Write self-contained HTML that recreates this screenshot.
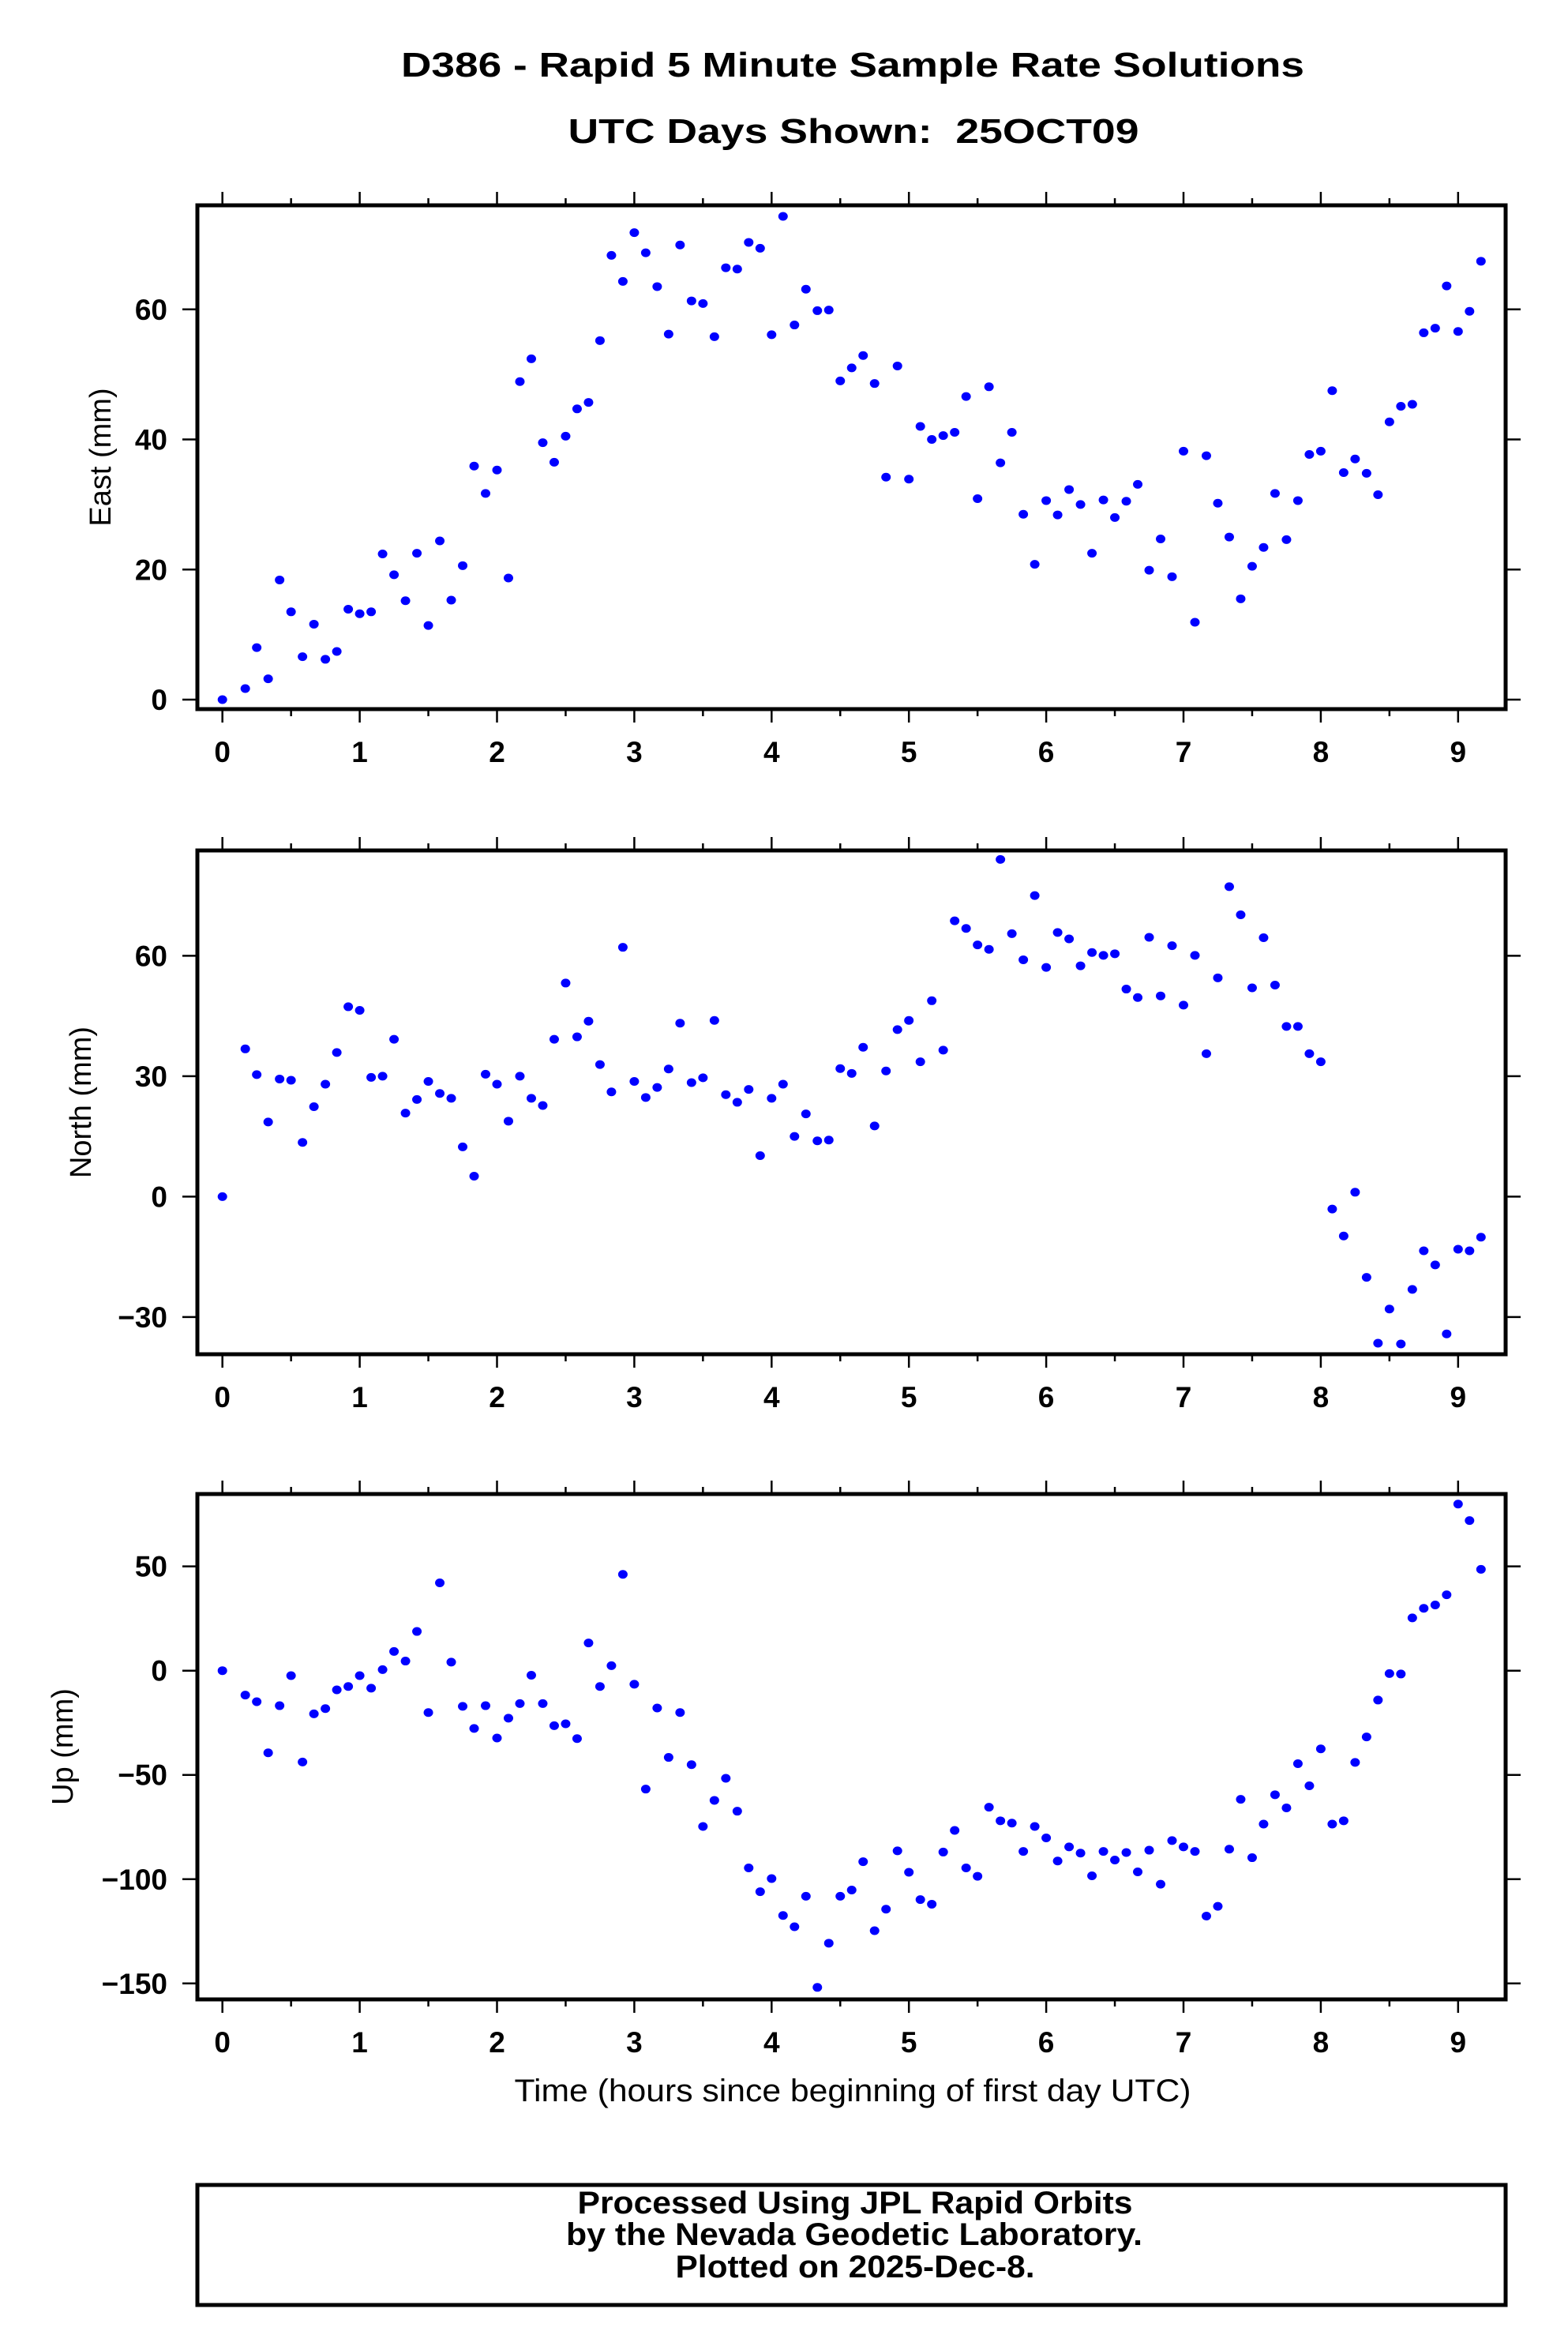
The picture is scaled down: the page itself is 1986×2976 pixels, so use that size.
<!DOCTYPE html>
<html><head><meta charset="utf-8"><style>
html,body{margin:0;padding:0;background:#fff;}
svg{display:block;font-family:"Liberation Sans",Arial,sans-serif;}
</style></head><body>
<svg id="chart" width="1986" height="2976" viewBox="0 0 1986 2976" xmlns="http://www.w3.org/2000/svg">
<rect x="0" y="0" width="1986" height="2976" fill="#fff"/>
<text x="1080" y="97" text-anchor="middle" font-size="44" font-weight="bold" textLength="1144" lengthAdjust="spacingAndGlyphs">D386 - Rapid 5 Minute Sample Rate Solutions</text>
<text x="1081" y="181" text-anchor="middle" font-size="44" font-weight="bold" textLength="723" lengthAdjust="spacingAndGlyphs" xml:space="preserve">UTC Days Shown:  25OCT09</text>
<text x="1080" y="2661" text-anchor="middle" font-size="40" textLength="857" lengthAdjust="spacingAndGlyphs">Time (hours since beginning of first day UTC)</text>
<rect x="250" y="2767" width="1657" height="152" fill="none" stroke="#000" stroke-width="5"/>
<text x="1083" y="2803" text-anchor="middle" font-size="40" font-weight="bold" textLength="703" lengthAdjust="spacingAndGlyphs">Processed Using JPL Rapid Orbits</text>
<text x="1082" y="2843" text-anchor="middle" font-size="40" font-weight="bold" textLength="730" lengthAdjust="spacingAndGlyphs">by the Nevada Geodetic Laboratory.</text>
<text x="1083" y="2884" text-anchor="middle" font-size="40" font-weight="bold" textLength="455" lengthAdjust="spacingAndGlyphs">Plotted on 2025-Dec-8.</text>
<g id="panels"></g>
</svg>
<script>
const sampleIndex = [0,2,3,4,5,6,7,8,9,10,11,12,13,14,15,16,17,18,19,20,21,22,23,24,25,26,27,28,29,30,31,32,33,34,35,36,37,38,39,40,41,42,43,44,45,46,47,48,49,50,51,52,53,54,55,56,57,58,59,60,61,62,63,64,65,66,67,68,69,70,71,72,73,74,75,76,77,78,79,80,81,82,83,84,85,86,87,88,89,90,91,92,93,94,95,96,97,98,99,100,101,102,103,104,105,106,107,108,109,110];
const eastValues = [0,1.7,8.0,3.2,18.4,13.5,6.6,11.6,6.2,7.4,13.9,13.2,13.5,22.4,19.2,15.2,22.5,11.4,24.4,15.3,20.6,35.9,31.7,35.3,18.7,48.9,52.4,39.5,36.5,40.5,44.7,45.7,55.2,68.3,64.3,71.8,68.7,63.5,56.2,69.9,61.3,60.9,55.8,66.4,66.2,70.3,69.4,56.1,74.3,57.6,63.1,59.8,59.9,49.0,51.0,52.9,48.6,34.2,51.3,33.9,42.0,40.0,40.6,41.1,46.6,30.9,48.1,36.4,41.1,28.5,20.8,30.6,28.4,32.3,30.0,22.5,30.7,28.0,30.5,33.1,19.9,24.7,18.9,38.2,11.9,37.5,30.2,25.0,15.5,20.5,23.4,31.7,24.6,30.6,37.7,38.2,47.5,34.9,37.0,34.8,31.5,42.7,45.1,45.4,56.4,57.1,63.6,56.6,59.7,67.4];
const northValues = [0,36.8,30.4,18.6,29.3,29.0,13.5,22.4,28.0,35.9,47.3,46.4,29.7,30.0,39.2,20.8,24.2,28.7,25.7,24.5,12.4,5.1,30.5,28.0,18.8,30.0,24.5,22.7,39.2,53.2,39.8,43.7,32.9,26.1,62.1,28.7,24.7,27.2,31.8,43.2,28.4,29.6,43.9,25.4,23.5,26.7,10.2,24.5,28.0,15.0,20.6,13.9,14.1,31.9,30.7,37.2,17.6,31.3,41.6,43.9,33.6,48.8,36.5,68.7,66.8,62.7,61.6,84.0,65.5,59.0,75.0,57.1,65.8,64.2,57.5,60.8,60.1,60.5,51.7,49.6,64.6,50.0,62.5,47.7,60.1,35.6,54.5,77.2,70.2,52.0,64.5,52.7,42.4,42.4,35.6,33.6,-3.1,-9.8,1.1,-20.1,-36.5,-28.0,-36.7,-23.1,-13.5,-17.0,-34.2,-13.1,-13.5,-10.1];
const upValues = [0,-11.7,-14.9,-39.4,-16.8,-2.4,-43.8,-20.7,-18.2,-9.2,-7.6,-2.4,-8.4,0.5,9.2,4.6,18.8,-20.1,42.1,4.1,-17.1,-27.7,-16.8,-32.3,-22.8,-15.8,-2.2,-15.8,-26.4,-25.5,-32.6,13.3,-7.6,2.4,46.2,-6.5,-56.8,-17.9,-41.6,-20.1,-45.1,-74.7,-62.2,-51.6,-67.4,-94.6,-106.0,-99.7,-117.4,-122.8,-108.2,-151.9,-130.7,-108.2,-105.2,-91.6,-124.7,-114.4,-86.4,-96.7,-109.8,-112.0,-87.0,-76.6,-94.6,-98.6,-65.5,-72.0,-73.1,-86.7,-74.7,-80.2,-91.3,-84.5,-87.5,-98.4,-86.7,-90.8,-87.2,-96.5,-86.1,-102.4,-81.5,-84.5,-86.7,-117.7,-113.0,-85.6,-61.7,-89.7,-73.6,-59.5,-65.8,-44.6,-55.2,-37.5,-73.6,-72.0,-44.0,-31.8,-14.1,-1.4,-1.6,25.3,29.9,31.5,36.4,79.9,72.0,48.6];
const xTickLabels = ["0","1","2","3","4","5","6","7","8","9"];
const eastTicks = [0,20,40,60];
const northTicks = [-30,0,30,60];
const upTicks = [-150,-100,-50,0,50];

const NS = "http://www.w3.org/2000/svg";
const root = document.getElementById('panels');
const X0 = 281.7, XS = 173.9, FL = 250, FR = 1907;
function xScale(t){ return X0 + t * XS; }
function mk(tag, attrs, parent){
  const e = document.createElementNS(NS, tag);
  for (const k in attrs) e.setAttribute(k, attrs[k]);
  (parent||root).appendChild(e);
  return e;
}
const panels = [
  {key:'east', title:'East (mm)', vals:eastValues, ticks:eastTicks, top:260, bot:898, zero:886, k:8.237, titleX:127},
  {key:'north', title:'North (mm)', vals:northValues, ticks:northTicks, top:1077, bot:1715, zero:1515.4, k:5.084, titleX:102},
  {key:'up', title:'Up (mm)', vals:upValues, ticks:upTicks, top:1892, bot:2532, zero:2115.7, k:2.6406, titleX:79}
];
panels.forEach(p => {
  const g = mk('g', {});
  
  
  const yScale = v => p.zero - v * p.k;
  for (let i = 0; i <= 18; i++) {
    const t = i / 2, x = xScale(t), len = (i % 2 === 0) ? 17 : 9;
    const tt = mk('line', {x1:x, x2:x, y1:p.top, y2:p.top - len, stroke:'#000', 'stroke-width':2.5}, g);
    
    
    const tb = mk('line', {x1:x, x2:x, y1:p.bot, y2:p.bot + len, stroke:'#000', 'stroke-width':2.5}, g);
    
    
  }
  xTickLabels.forEach((lab, i) => {
    const tx = mk('text', {x:xScale(i), y:p.bot + 67, 'text-anchor':'middle', 'font-size':37, 'font-weight':'bold'}, g);
    tx.textContent = lab;
    
    
  });
  p.ticks.forEach(v => {
    const y = yScale(v);
    const l = mk('line', {x1:FL - 19, x2:FL, y1:y, y2:y, stroke:'#000', 'stroke-width':2.5}, g);
    
    
    const r = mk('line', {x1:FR, x2:FR + 19, y1:y, y2:y, stroke:'#000', 'stroke-width':2.5}, g);
    
    
    const tx = mk('text', {x:212, y:y + 13, 'text-anchor':'end', 'font-size':37, 'font-weight':'bold'}, g);
    tx.textContent = (v < 0 ? '\u2212' + Math.abs(v) : String(v));
    
    
  });
  const yt = mk('text', {x:0, y:0, 'text-anchor':'middle', 'font-size':38, transform:'translate(' + (p.titleX + 13) + ',' + ((p.top + p.bot) / 2) + ') rotate(-90)'}, g);
  yt.textContent = p.title;
  
  
  p.vals.forEach((v, i) => {
    const c = mk('ellipse', {cx:xScale(sampleIndex[i] / 12), cy:yScale(v), rx:6, ry:5.5, fill:'#0000ff'}, g);
    
    
  });
  const fr = mk('rect', {x:FL, y:p.top, width:FR - FL, height:p.bot - p.top, fill:'none', stroke:'#000', 'stroke-width':5}, g);
  
  
});
</script>
</body></html>
